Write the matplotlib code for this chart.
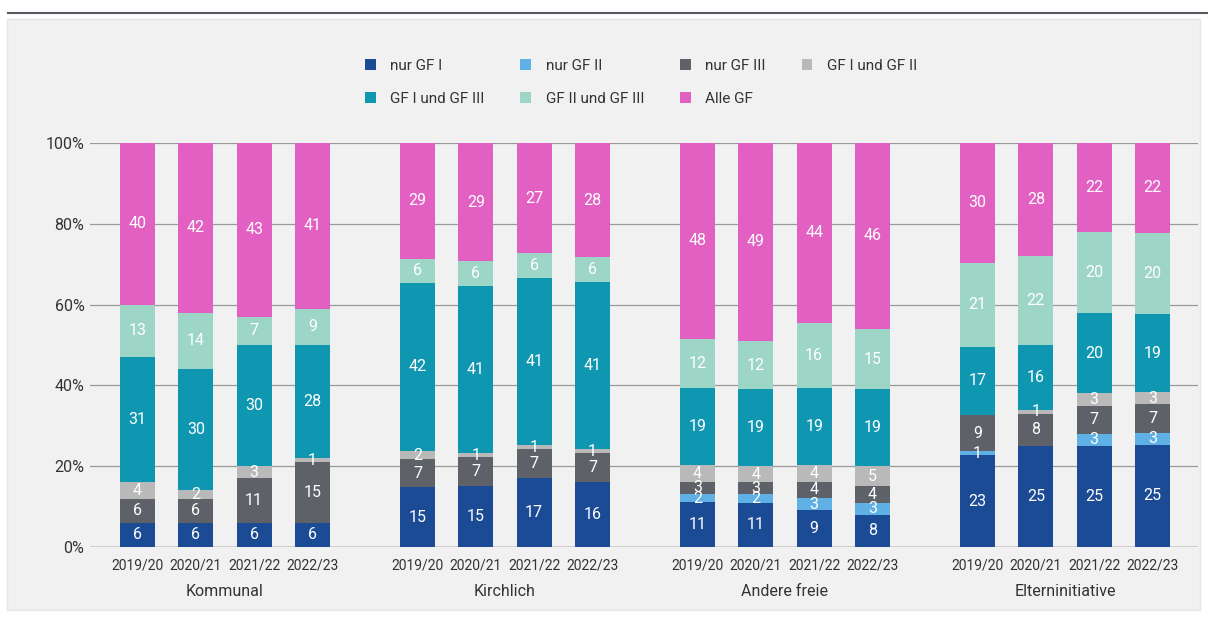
import matplotlib
matplotlib.use("Agg")
import matplotlib.pyplot as plt
import numpy as np
from matplotlib.patches import Rectangle
from matplotlib.lines import Line2D
from matplotlib.transforms import blended_transform_factory

plt.rcParams['font.family'] = ['Roboto', 'DejaVu Sans']

# Provider groups and school years
groups = ["Kommunal", "Kirchlich", "Andere freie", "Elterninitiative"]
years = ["2019/20", "2020/21", "2021/22", "2022/23"]

series_names = ["nur GF I", "nur GF II", "nur GF III", "GF I und GF II",
                "GF I und GF III", "GF II und GF III", "Alle GF"]
series_colors = ["#1c4b96", "#5eb0e5", "#5e6268", "#b9b9b9",
                 "#0f97b1", "#9dd5c6", "#e160c2"]

# Shares in percent, one list per series, ordered group by group, year by year
nur_gf1 = [6, 6, 6, 6,   15, 15, 17, 16,   11, 11, 9, 8,    23, 25, 25, 25]
nur_gf2 = [0, 0, 0, 0,   0, 0, 0, 0,       2, 2, 3, 3,      1, 0, 3, 3]
nur_gf3 = [6, 6, 11, 15, 7, 7, 7, 7,       3, 3, 4, 4,      9, 8, 7, 7]
gf1_gf2 = [4, 2, 3, 1,   2, 1, 1, 1,       4, 4, 4, 5,      0, 1, 3, 3]
gf1_gf3 = [31, 30, 30, 28, 42, 41, 41, 41, 19, 19, 19, 19,  17, 16, 20, 19]
gf2_gf3 = [13, 14, 7, 9, 6, 6, 6, 6,       12, 12, 16, 15,  21, 22, 20, 20]
alle_gf = [40, 42, 43, 41, 29, 29, 27, 28, 48, 49, 44, 46,  30, 28, 22, 22]

values = np.array([nur_gf1, nur_gf2, nur_gf3, gf1_gf2, gf1_gf3, gf2_gf3, alle_gf], dtype=float)
# 100 % stacked: each bar is scaled to a full column
shares = values / values.sum(axis=0) * 100

W, H = 1208, 619
fig = plt.figure(figsize=(W / 100, H / 100), dpi=100, facecolor="white")

# header rule and light panel
fig.add_artist(Line2D([8 / W, 1.0], [1 - 12.5 / H, 1 - 12.5 / H],
                      color="#555a60", lw=1.5, transform=fig.transFigure))
fig.add_artist(Rectangle((7 / W, 1 - 610 / H), (1200 - 7) / W, (610 - 19) / H,
                         transform=fig.transFigure, facecolor="#f1f1f1",
                         edgecolor="#e6e6e6", lw=1.0, zorder=0))

ax = fig.add_axes([90 / W, (H - 547) / H, (1198 - 90) / W, (547 - 143) / H])
ax.set_facecolor("none")

gap = 4.8
x = np.array([g * gap + i for g in range(len(groups)) for i in range(len(years))])
bar_w = 0.6

bottom = np.zeros(len(x))
handles = []
for k, (name, col) in enumerate(zip(series_names, series_colors)):
    h = ax.bar(x, shares[k], bar_w, bottom=bottom, color=col, label=name,
               zorder=3, linewidth=0)
    handles.append(h)
    for xi, b, s, v in zip(x, bottom, shares[k], values[k]):
        if v > 0:
            ax.text(xi, b + s / 2, f"{int(v)}", ha="center", va="center",
                    color="white", fontsize=11.5, zorder=4)
    bottom += shares[k]

ax.set_ylim(0, 100)
ax.set_xlim(-0.814, 18.18)
ax.set_yticks(np.arange(0, 101, 20))
ax.set_yticklabels([f"{v}%" for v in range(0, 101, 20)], fontsize=11.5, color="#333333")
ax.set_xticks(x)
ax.set_xticklabels(years * len(groups), fontsize=10, color="#333333")
ax.tick_params(axis="both", length=0)
ax.tick_params(axis="y", pad=4)
ax.tick_params(axis="x", pad=8)
for sp in ax.spines.values():
    sp.set_visible(False)
ax.grid(axis="y", color="#9a9a9a", lw=0.9, zorder=1)
ax.set_axisbelow(True)
ax.axhline(0, color="#7a7a7a", lw=1.0, zorder=2)

trans = blended_transform_factory(ax.transData, ax.transAxes)
for g, name in enumerate(groups):
    ax.text(g * gap + 1.5, -0.111, name, transform=trans, ha="center", va="center",
            fontsize=11.5, color="#333333")

order = [0, 4, 1, 5, 2, 6, 3]
fig.legend([handles[i] for i in order], [series_names[i] for i in order],
           loc="upper left", bbox_to_anchor=(365 / W, 1 - 59 / H),
           ncol=4, frameon=False, fontsize=11, handlelength=0.7, handleheight=0.7,
           handletextpad=0.95, columnspacing=2.35, labelspacing=1.22,
           borderpad=0, borderaxespad=0, labelcolor="#333333")

fig.savefig("out.png", dpi=100, facecolor="white")
